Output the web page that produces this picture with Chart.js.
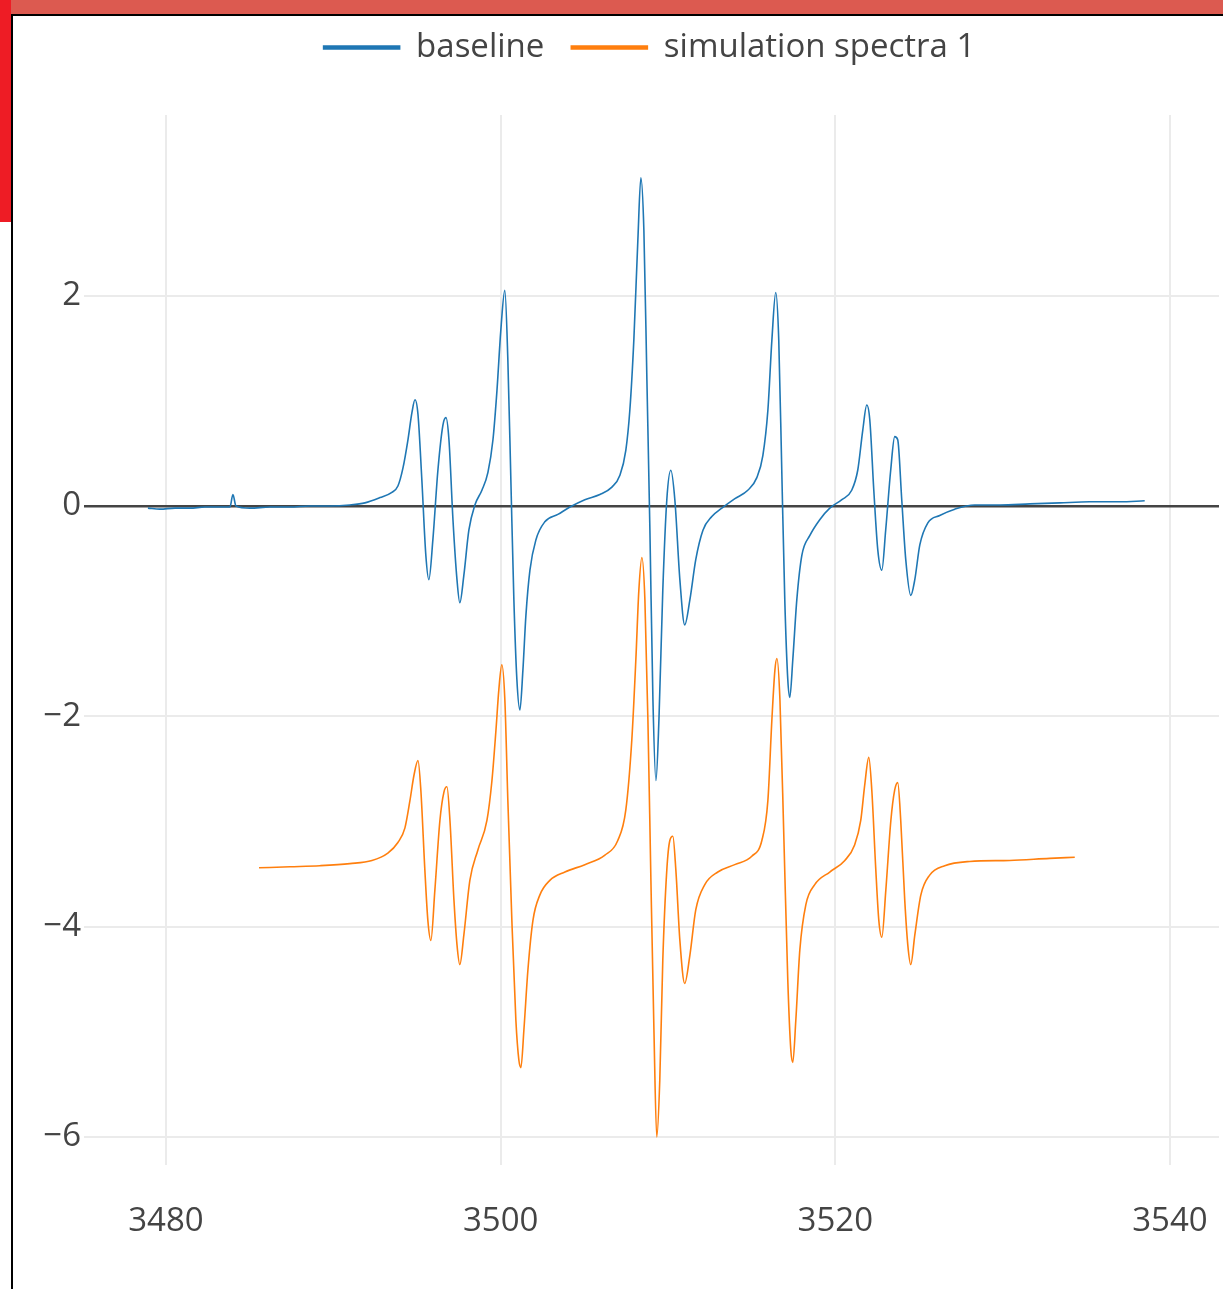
<!DOCTYPE html>
<html lang="en">
<head>
<meta charset="UTF-8">
<title>baseline / simulation spectra</title>
<script src="https://cdn.jsdelivr.net/npm/chart.js"></script>
<style>
  html, body { margin: 0; padding: 0; background: #fff; overflow: hidden; }
  /* canvas runs a bit past the right edge so the legend centres over the plot */
  .chartBox { position: absolute; left: 0; top: 0; width: 1299px; height: 1289px; }
  /* frame around the screenshot */
  .barTop { position: absolute; left: 0; top: 0; width: 1223px; height: 14px; background: #dc5a50; z-index: 2; }
  .lineTop { position: absolute; left: 11px; top: 14px; width: 1212px; height: 2px; background: #000; z-index: 2; }
  .barLeft { position: absolute; left: 0; top: 0; width: 11px; height: 222px; background: #ee1c25; z-index: 3; }
  .lineLeft { position: absolute; left: 11px; top: 14px; width: 2px; height: 1275px; background: #000; z-index: 2; }
  .rightEdge { position: absolute; left: 1219px; top: 16px; width: 4px; height: 1273px; background: #fff; z-index: 1; }
</style>
</head>
<body>

<div class="chartBox"><canvas id="spectra"></canvas></div>
<div class="rightEdge"></div>
<div class="barTop"></div>
<div class="lineTop"></div>
<div class="barLeft"></div>
<div class="lineLeft"></div>

<script>
// series names
const seriesNames = ['baseline', 'simulation spectra 1'];

// axis ticks
const xTicks = [3480, 3500, 3520, 3540];
const yTicks = [-6, -4, -2, 0, 2];

// baseline (measured)
const baseX = [3478.92, 3479.64, 3480.54, 3481.43, 3482.33, 3483.23, 3483.82, 3484.00, 3484.18, 3485.02,
  3486.21, 3487.41, 3488.60, 3489.80, 3490.99, 3491.89, 3492.79, 3493.50, 3493.86, 3494.16,
  3494.46, 3494.70, 3494.88, 3495.06, 3495.29, 3495.53, 3495.71, 3495.95, 3496.25, 3496.55,
  3496.73, 3496.91, 3497.15, 3497.39, 3497.56, 3497.80, 3498.10, 3498.46, 3498.88, 3499.24,
  3499.54, 3499.78, 3500.01, 3500.25, 3500.43, 3500.61, 3500.79, 3500.97, 3501.15, 3501.33,
  3501.51, 3501.75, 3502.11, 3502.64, 3503.42, 3504.14, 3505.03, 3505.93, 3506.65, 3507.12,
  3507.48, 3507.72, 3507.96, 3508.20, 3508.38, 3508.56, 3508.74, 3508.92, 3509.10, 3509.28,
  3509.46, 3509.69, 3509.93, 3510.17, 3510.41, 3510.71, 3511.00, 3511.31, 3511.66, 3512.09,
  3512.62, 3513.22, 3514.00, 3514.77, 3515.31, 3515.67, 3515.97, 3516.21, 3516.44, 3516.62,
  3516.80, 3516.98, 3517.16, 3517.28, 3517.46, 3517.70, 3518.00, 3518.48, 3519.07, 3519.67,
  3520.39, 3520.98, 3521.34, 3521.64, 3521.88, 3522.06, 3522.30, 3522.54, 3522.78, 3523.01,
  3523.31, 3523.55, 3523.73, 3523.97, 3524.21, 3524.51, 3524.75, 3525.05, 3525.53, 3526.24,
  3527.14, 3528.33, 3529.83, 3531.62, 3533.41, 3535.20, 3537.00, 3538.49];
const baseY = [-0.02, -0.03, -0.02, -0.02, -0.01, -0.01, -0.01, 0.11, 0.0, -0.02,
  -0.01, -0.01, 0.0, 0.0, 0.01, 0.03, 0.08, 0.13, 0.19, 0.36,
  0.63, 0.89, 1.01, 0.87, 0.25, -0.47, -0.70, -0.32, 0.34, 0.77,
  0.84, 0.63, -0.13, -0.70, -0.92, -0.66, -0.23, 0.01, 0.15, 0.32,
  0.63, 1.10, 1.67, 2.05, 1.39, 0.25, -0.89, -1.65, -1.94, -1.56,
  -1.04, -0.61, -0.32, -0.15, -0.08, -0.01, 0.06, 0.11, 0.18, 0.29,
  0.53, 0.91, 1.58, 2.53, 3.12, 2.62, 1.20, -0.23, -1.84, -2.61,
  -2.03, -0.80, 0.06, 0.34, 0.06, -0.70, -1.13, -0.89, -0.51, -0.23,
  -0.10, -0.02, 0.07, 0.15, 0.27, 0.48, 0.91, 1.58, 2.03, 1.58,
  0.34, -0.89, -1.65, -1.82, -1.46, -0.89, -0.47, -0.28, -0.13, -0.02,
  0.06, 0.15, 0.34, 0.72, 0.96, 0.82, 0.15, -0.42, -0.61, -0.23,
  0.34, 0.66, 0.63, 0.06, -0.51, -0.85, -0.70, -0.37, -0.16, -0.09,
  -0.03, 0.01, 0.01, 0.02, 0.03, 0.04, 0.04, 0.05];

// simulation spectra 1
const simX = [3485.56, 3487.41, 3489.20, 3490.99, 3492.31, 3493.26, 3493.86, 3494.28, 3494.58, 3494.82,
  3495.06, 3495.23, 3495.47, 3495.65, 3495.83, 3496.07, 3496.37, 3496.61, 3496.79, 3496.97,
  3497.21, 3497.39, 3497.56, 3497.80, 3498.16, 3498.64, 3499.18, 3499.48, 3499.72, 3499.89,
  3500.07, 3500.25, 3500.43, 3500.67, 3500.91, 3501.09, 3501.21, 3501.39, 3501.63, 3501.93,
  3502.34, 3502.94, 3503.84, 3505.03, 3506.23, 3507.00, 3507.48, 3507.84, 3508.08, 3508.26,
  3508.44, 3508.62, 3508.80, 3508.98, 3509.16, 3509.33, 3509.51, 3509.69, 3509.93, 3510.11,
  3510.29, 3510.47, 3510.71, 3511.00, 3511.31, 3511.66, 3512.20, 3512.98, 3513.99, 3515.01,
  3515.61, 3515.97, 3516.21, 3516.39, 3516.51, 3516.69, 3516.93, 3517.16, 3517.34, 3517.46,
  3517.64, 3517.88, 3518.24, 3518.77, 3519.67, 3520.57, 3521.16, 3521.52, 3521.76, 3522.00,
  3522.18, 3522.42, 3522.60, 3522.78, 3523.02, 3523.32, 3523.55, 3523.73, 3523.91, 3524.15,
  3524.33, 3524.51, 3524.75, 3525.11, 3525.64, 3526.54, 3528.03, 3530.42, 3532.81, 3534.31];
const simY = [-3.44, -3.43, -3.42, -3.40, -3.37, -3.30, -3.20, -3.06, -2.80, -2.56,
  -2.42, -2.70, -3.46, -3.94, -4.13, -3.65, -2.99, -2.72, -2.67, -2.99,
  -3.75, -4.17, -4.36, -4.08, -3.56, -3.27, -2.99, -2.61, -2.13, -1.75,
  -1.51, -1.84, -2.80, -3.94, -4.89, -5.27, -5.34, -4.98, -4.41, -3.94,
  -3.70, -3.56, -3.48, -3.41, -3.32, -3.18, -2.89, -2.22, -1.46, -0.80,
  -0.49, -0.89, -2.03, -3.56, -4.98, -6.00, -5.46, -4.32, -3.46, -3.18,
  -3.14, -3.46, -4.13, -4.54, -4.27, -3.84, -3.60, -3.48, -3.41, -3.33,
  -3.18, -2.80, -2.03, -1.56, -1.45, -1.84, -3.18, -4.51, -5.17, -5.29,
  -4.89, -4.22, -3.79, -3.60, -3.48, -3.37, -3.22, -2.99, -2.65, -2.39,
  -2.70, -3.46, -3.94, -4.10, -3.65, -2.99, -2.70, -2.63, -2.99, -3.75,
  -4.17, -4.36, -4.08, -3.70, -3.51, -3.42, -3.38, -3.37, -3.35, -3.34];

const blue = '#1f77b4';
const orange = '#ff7f0e';

function toPoints(xs, ys) {
  return xs.map((x, i) => ({ x: x, y: ys[i] }));
}

function fmt(v) {
  return v < 0 ? '\u2212' + Math.abs(v) : String(v);
}

Chart.defaults.font.family = '"Open Sans", sans-serif';
Chart.defaults.color = '#444';

const ctx = document.getElementById('spectra');

new Chart(ctx, {
  type: 'line',
  data: {
    datasets: [{
      label: seriesNames[0],
      data: toPoints(baseX, baseY),
      borderColor: blue,
      backgroundColor: blue,
      borderWidth: 1.6,
      pointRadius: 0,
      cubicInterpolationMode: 'monotone'
    }, {
      label: seriesNames[1],
      data: toPoints(simX, simY),
      borderColor: orange,
      backgroundColor: orange,
      borderWidth: 1.6,
      pointRadius: 0,
      cubicInterpolationMode: 'monotone'
    }]
  },
  options: {
    responsive: true,
    maintainAspectRatio: false,
    animation: false,
    layout: { padding: { left: 0, right: 0, top: 4, bottom: 0 } },
    plugins: {
      tooltip: { enabled: false },
      legend: {
        position: 'top',
        align: 'center',
        labels: {
          boxWidth: 76,
          boxHeight: 3,
          padding: 27,
          color: '#444',
          font: { size: 33 }
        }
      }
    },
    scales: {
      x: {
        type: 'linear',
        position: 'bottom',
        min: 3475.1,
        max: 3542.93,
        afterBuildTicks: axis => { axis.ticks = xTicks.map(v => ({ value: v })); },
        afterFit: axis => { axis.height = 124; },
        border: { display: false },
        grid: { color: '#ebebeb', lineWidth: 2, drawTicks: true, tickLength: 37, tickColor: 'rgba(0,0,0,0)' },
        ticks: { padding: 0, maxRotation: 0, font: { size: 33 }, color: '#444', callback: v => String(v) }
      },
      // empty axis: gap under the legend
      gapTop: {
        type: 'linear',
        position: 'top',
        axis: 'x',
        display: true,
        border: { display: false },
        grid: { display: false, drawTicks: false },
        ticks: { display: false },
        afterFit: axis => { axis.height = 41; }
      },
      y: {
        type: 'linear',
        min: -6.266,
        max: 3.718,
        afterBuildTicks: axis => { axis.ticks = yTicks.map(v => ({ value: v })); },
        afterFit: axis => { axis.width = 84; },
        border: { display: false },
        grid: {
          color: c => (c.tick && c.tick.value === 0) ? '#444' : '#ebebeb',
          lineWidth: c => (c.tick && c.tick.value === 0) ? 2.5 : 2,
          drawTicks: false
        },
        ticks: { padding: 3, font: { size: 33 }, color: '#444', callback: v => fmt(v) }
      },
      // empty axis on the right, outside the window
      gapRight: {
        type: 'linear',
        position: 'right',
        axis: 'y',
        display: true,
        border: { display: false },
        grid: { display: false, drawTicks: false },
        ticks: { display: false },
        afterFit: axis => { axis.width = 80; }
      }
    }
  }
});
</script>

</body>
</html>
